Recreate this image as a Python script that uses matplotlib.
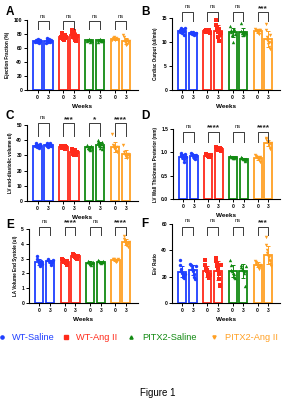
import numpy as np
import matplotlib
matplotlib.use("Agg")
import matplotlib.pyplot as plt
from matplotlib.lines import Line2D

plt.rcParams['font.family'] = ['Liberation Sans', 'DejaVu Sans']

groups = ["WT-Saline", "WT-Ang II", "PITX2-Saline", "PITX2-Ang II"]
colors = ["#1f3fff", "#ff2a1a", "#128a12", "#ffa024"]
markers = ["o", "s", "^", "v"]
week_labels = ["0", "3"]

# individual points per group: [week 0, week 3]
ef = [
    [[68, 70, 72, 71, 69, 73, 70, 67, 71, 70], [67, 71, 74, 70, 69, 72, 73, 68, 70, 71]],
    [[74, 76, 82, 73, 75, 77, 72, 78, 74, 76], [86, 82, 80, 75, 84, 78, 72, 76, 70, 77]],
    [[70, 72, 71, 73, 69, 71, 72, 70], [69, 72, 71, 73, 70, 72, 70, 71]],
    [[72, 74, 75, 73, 71, 74, 73, 72], [78, 75, 71, 68, 64, 70, 72, 66, 69, 70]],
]
co = [
    [[12.0, 12.5, 13.0, 12.8, 11.8, 12.3, 12.6, 11.5, 12.2, 12.9], [11.8, 12.0, 11.6, 11.9, 12.1, 11.5, 11.7, 11.8]],
    [[12.2, 12.5, 12.0, 12.4, 12.3, 12.1, 12.6, 11.9], [14.5, 13.5, 13.0, 12.5, 12.0, 11.0, 10.2, 12.8, 11.5, 11.8]],
    [[13.3, 12.5, 12.0, 11.5, 10.0, 12.2, 12.8, 11.7], [14.0, 12.2, 11.8, 11.5, 12.0, 11.6, 12.1, 11.9]],
    [[12.8, 12.5, 12.2, 12.0, 11.8, 12.4, 11.6, 12.6], [13.8, 12.5, 11.0, 10.5, 9.5, 9.0, 10.0, 11.5, 8.5, 9.8]],
]
lvedv = [
    [[36, 37, 38, 35.5, 36.5, 37, 36, 35, 37.5, 36], [37, 38, 36, 35.5, 37.5, 36.5, 38, 36, 37]],
    [[36, 35.5, 35, 36.5, 35.8, 34.5, 36, 35.2], [34, 33, 32, 31, 30.5, 32.5, 33.5, 31.5, 30, 32]],
    [[37, 36, 35, 34, 33.5, 35.5, 36.5, 34.5], [40, 39, 38, 37, 36, 35, 37.5, 38.5, 34, 36.5]],
    [[44, 37, 36, 35, 34.5, 34, 33, 35.5, 32.5, 35.5], [37, 32, 31, 30.5, 30, 29, 28, 30.5, 31, 29.5]],
]
lvwt = [
    [[0.98, 0.95, 0.92, 0.90, 0.88, 0.85, 0.80, 0.93, 0.96, 0.91], [0.98, 0.96, 0.94, 0.92, 0.90, 0.88, 0.85, 0.93, 0.95]],
    [[0.96, 0.95, 0.94, 0.93, 0.92, 0.91, 0.90, 0.94], [1.12, 1.10, 1.08, 1.06, 1.05, 1.04, 1.09, 1.07, 1.03]],
    [[0.92, 0.91, 0.90, 0.89, 0.88, 0.87, 0.90, 0.91], [0.90, 0.88, 0.87, 0.86, 0.85, 0.84, 0.82, 0.86]],
    [[0.95, 0.92, 0.90, 0.88, 0.86, 0.84, 0.80, 0.89], [1.30, 1.28, 1.25, 1.22, 1.20, 1.18, 1.15, 1.10, 1.08, 1.21]],
]
lavol = [
    [[3.2, 3.0, 2.9, 2.8, 2.7, 2.6, 2.5, 2.75, 2.85, 2.65], [3.0, 2.9, 2.85, 2.8, 2.75, 2.7, 2.6, 2.8, 2.9]],
    [[2.95, 2.9, 2.85, 2.8, 2.75, 2.7, 2.6, 2.85], [3.3, 3.25, 3.2, 3.15, 3.1, 3.05, 3.0, 3.15, 3.2]],
    [[2.85, 2.8, 2.75, 2.7, 2.65, 2.6, 2.7, 2.75], [2.9, 2.85, 2.8, 2.75, 2.7, 2.8, 2.85, 2.75]],
    [[3.0, 2.95, 2.9, 2.85, 2.8, 2.85, 2.9, 2.95], [4.5, 4.3, 4.2, 4.1, 4.0, 3.95, 3.9, 3.8, 4.05, 4.1]],
]
ee = [
    [[33, 29, 26, 24, 23, 22, 20, 19, 21, 22], [30, 29, 28, 26, 25, 24, 22, 20, 18, 28]],
    [[33, 29, 26, 25, 24, 22, 21, 20, 19, 21], [34, 32, 30, 28, 26, 25, 22, 18, 14, 13, 29]],
    [[33, 29, 25, 24, 23, 22, 20, 19], [29, 27, 26, 25, 24, 23, 13, 28]],
    [[32, 31, 30, 29, 28, 27, 26, 28, 29], [50, 44, 40, 38, 36, 35, 33, 32, 30, 28]],
]

sig_ef = ["ns", "ns", "ns", "ns"]
sig_co = ["ns", "ns", "ns", "***"]
sig_lvedv = ["ns", "***", "*", "****"]
sig_lvwt = ["ns", "****", "ns", "****"]
sig_lavol = ["ns", "****", "ns", "****"]
sig_ee = ["ns", "ns", "ns", "***"]

# letter, data, sig, ylabel, yticks, ticklabels, bracket top, leg bottom, axes box (px), letter pos (px)
panels = [
    ("A", ef, sig_ef, "Ejection Fraction (%)", [0, 20, 40, 60, 80, 100], None, 98, 87,
     (27, 20, 138, 90), (10, 12)),
    ("B", co, sig_co, "Cardiac Output (ul/min)", [0, 5, 10, 15], None, 16.2, 14.4,
     (172, 18, 280, 90), (145, 12)),
    ("C", lvedv, sig_lvedv, "LV end-diastolic volume ul)", [0, 10, 20, 30, 40, 50], None, 51, 43,
     (27, 125, 138, 201), (10, 116)),
    ("D", lvwt, sig_lvwt, "LV Wall Thickness Posterior (mm)", [0, 0.5, 1.0, 1.5],
     ["0.0", "0.5", "1.0", "1.5"], 1.44, 1.22, (173, 129, 280, 199), (145, 116)),
    ("E", lavol, sig_lavol, "LA Volume End Systole (ul)", [0, 1, 2, 3, 4, 5], None, 5.13, 4.6,
     (29, 229, 138, 303), (10, 225)),
    ("F", ee, sig_ee, "E/e' Ratio", [0, 20, 40, 60], None, 58, 51.5,
     (172, 224, 280, 303), (145, 224)),
]

W, H = 289, 400
fig = plt.figure(figsize=(W / 100, H / 100), dpi=100)

gap = 2.36
offsets = [0, 1]

for letter, data, sig, ylabel, yticks, yticklabels, btop, bleg, box, lpos in panels:
    x0, y0, x1, y1 = box
    ax = fig.add_axes([x0 / W, 1 - y1 / H, (x1 - x0) / W, (y1 - y0) / H])
    xpos = []
    for i, grp in enumerate(data):
        for j, pts in enumerate(grp):
            x = i * gap + offsets[j]
            xpos.append(x)
            pts = np.array(pts, dtype=float)
            m = pts.mean()
            sd = pts.std(ddof=1)
            ax.bar(x, m, width=0.76, facecolor="white", edgecolor=colors[i], linewidth=1.3, zorder=2)
            ax.errorbar(x, m, yerr=sd, color=colors[i], capsize=1.5, elinewidth=0.7, capthick=0.7, zorder=3)
            n = len(pts)
            jit = np.linspace(-0.24, 0.24, n)
            ax.scatter(x + jit, pts, s=6, marker=markers[i], color=colors[i], linewidths=0, zorder=4)
        # significance bracket
        xa, xb = i * gap, i * gap + 1
        ax.plot([xa, xa, xb, xb], [bleg, btop, btop, bleg], color="#3a3a3a", lw=0.7,
                clip_on=False, zorder=5)
        if sig[i] == "ns":
            ax.text((xa + xb) / 2, btop + yticks[-1] * 0.04, sig[i], ha="center", va="bottom",
                    fontsize=4.2, color="#222222", clip_on=False)
        else:
            ax.text((xa + xb) / 2, btop + yticks[-1] * 0.005, sig[i], ha="center", va="bottom",
                    fontsize=6, fontweight="bold", color="#222222", clip_on=False)

    ax.set_xlim(-0.97, 3 * gap + 1 + 1.1)
    ax.set_ylim(0, yticks[-1])
    ax.set_yticks(yticks)
    if yticklabels is not None:
        ax.set_yticklabels(yticklabels)
    ax.set_xticks(xpos)
    ax.set_xticklabels(week_labels * 4)
    ax.tick_params(labelsize=3.6, width=0.7, length=2, pad=1.5)
    for lab in ax.get_xticklabels() + ax.get_yticklabels():
        lab.set_fontweight("bold")
    for s in ["top", "right"]:
        ax.spines[s].set_visible(False)
    for s in ["left", "bottom"]:
        ax.spines[s].set_linewidth(0.8)
    ax.set_xlabel("Weeks", fontsize=4.6, fontweight="bold", labelpad=3)
    ax.set_ylabel(ylabel, fontsize=3.3, fontweight="bold", labelpad=2.5)
    fig.text(lpos[0] / W, 1 - lpos[1] / H, letter, fontsize=8.5, fontweight="bold",
             ha="center", va="center")

# legend row, placed by hand like the original
legend_marker_x = [2, 66, 131, 214]
legend_text_x = [12, 76, 142, 225]
ly = 1 - 337 / H
for i in range(4):
    fig.add_artist(Line2D([legend_marker_x[i] / W], [ly], ls="none", marker=markers[i],
                          color=colors[i], markersize=2.3, transform=fig.transFigure))
    fig.text(legend_text_x[i] / W, ly, groups[i], color=colors[i], fontsize=6.7,
             ha="left", va="center")

fig.text(0.547, 1 - 393 / H, "Figure 1", ha="center", va="center", fontsize=7)

fig.savefig("out.png", dpi=100)
